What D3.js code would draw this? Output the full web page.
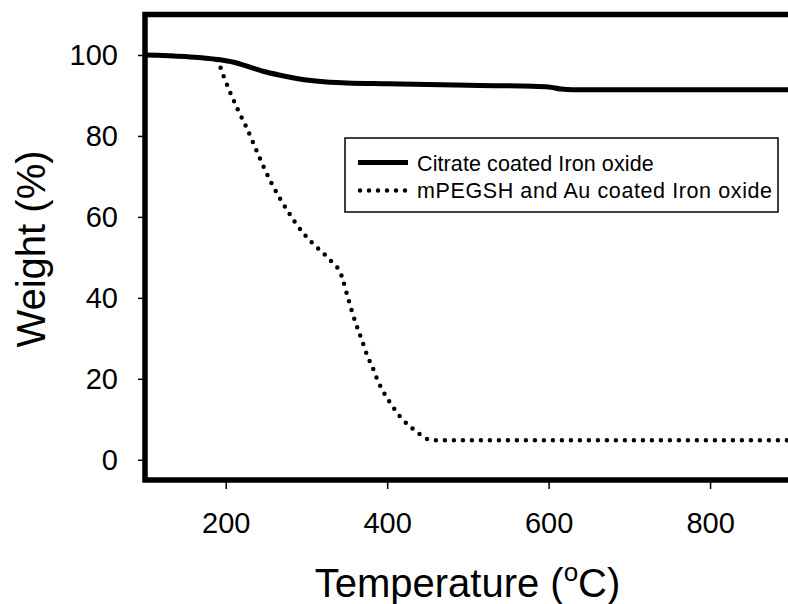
<!DOCTYPE html>
<html>
<head>
<meta charset="utf-8">
<script src="https://cdn.jsdelivr.net/npm/d3@7"></script>
<style>
  body { margin: 0; background: #fff; }
  svg { display: block; font-family: "Liberation Sans", Arial, sans-serif; }
</style>
</head>
<body>
<div id="chart-area"></div>
<script>
// values
var citrateTemp   = [100, 150, 190, 210, 230, 250, 275, 300, 325, 350, 400, 450, 500, 580, 600, 615, 630, 700, 800, 900];
var citrateWeight = [100, 99.6, 98.9, 98.2, 97.0, 95.8, 94.7, 93.8, 93.3, 93.1, 92.9, 92.7, 92.5, 92.3, 92.1, 91.6, 91.4, 91.4, 91.4, 91.4];

var mpegTemp   = [100, 150, 190, 195, 205, 215, 226, 240, 255, 275, 296, 310, 321, 337, 341, 345, 350, 358, 364, 370, 376, 381, 387, 393, 400, 407, 416, 426, 436, 450, 461, 600, 800, 900];
var mpegWeight = [100, 99.6, 98.7, 96, 91, 86.5, 82, 75.5, 69, 62, 56, 53, 51, 47.7, 46.8, 44.5, 41, 35.6, 32.1, 28.8, 25.4, 23.3, 20.2, 17.6, 15.2, 13.1, 10.7, 8.6, 7, 5.1, 4.8, 4.8, 4.8, 4.8];

var xTicks = [200, 400, 600, 800];
var yTicks = [0, 20, 40, 60, 80, 100];

var legendLabels = ["Citrate coated Iron oxide", "mPEGSH and Au coated Iron oxide"];

var width = 788, height = 604;
var svg = d3.select("#chart-area").append("svg").attr("width", width).attr("height", height);

var x = d3.scaleLinear().domain([100, 900]).range([145, 790.8]);
var y = d3.scaleLinear().domain([-5, 110]).range([480, 14.5]);

// axes (domain drawn by the frame below)
var xAxis = svg.append("g")
    .attr("transform", "translate(0," + y(-5) + ")")
    .call(d3.axisBottom(x).tickValues(xTicks).tickSize(9).tickPadding(23));
var yAxis = svg.append("g")
    .attr("transform", "translate(" + x(100) + ",0)")
    .call(d3.axisLeft(y).tickValues(yTicks).tickSize(7).tickPadding(20));

[xAxis, yAxis].forEach(function(a) {
  a.select(".domain").remove();
  a.selectAll("line").attr("stroke", "#000").attr("stroke-width", 1.5);
  a.selectAll("text").attr("font-size", "29px").attr("fill", "#000")
    .style("font-family", "'Liberation Sans', Arial, sans-serif");
});

// curves
var line = d3.line().curve(d3.curveMonotoneX);

var mpegPts = mpegTemp.map(function(t, i) { return [x(t), y(mpegWeight[i])]; });
var citPts = citrateTemp.map(function(t, i) { return [x(t), y(citrateWeight[i])]; });

svg.append("path")
    .attr("d", line(mpegPts))
    .attr("fill", "none")
    .attr("stroke", "#000")
    .attr("stroke-width", 4.5)
    .attr("stroke-linecap", "round")
    .attr("stroke-dasharray", "0 9");

svg.append("path")
    .attr("d", line(citPts))
    .attr("fill", "none")
    .attr("stroke", "#000")
    .attr("stroke-width", 5);

// frame
svg.append("rect")
    .attr("x", x(100)).attr("y", y(110))
    .attr("width", x(900) - x(100)).attr("height", y(-5) - y(110))
    .attr("fill", "none").attr("stroke", "#000").attr("stroke-width", 5.5);

// legend
var lg = svg.append("g");
lg.append("rect")
    .attr("x", 345).attr("y", 138).attr("width", 433).attr("height", 74)
    .attr("fill", "#fff").attr("stroke", "#000").attr("stroke-width", 1.5);
lg.append("line").attr("x1", 358).attr("x2", 408).attr("y1", 162.5).attr("y2", 162.5)
    .attr("stroke", "#000").attr("stroke-width", 5);
lg.append("line").attr("x1", 360).attr("x2", 406).attr("y1", 190.5).attr("y2", 190.5)
    .attr("stroke", "#000").attr("stroke-width", 4.5)
    .attr("stroke-linecap", "round").attr("stroke-dasharray", "0 9");
lg.selectAll("text.leg")
    .data(legendLabels)
    .enter().append("text")
    .attr("class", "leg")
    .attr("x", 417)
    .attr("y", function(d, i) { return 170.5 + i * 27; })
    .attr("font-size", "21.5px")
    .attr("letter-spacing", function(d, i) { return i === 1 ? "0.6px" : "0.1px"; })
    .text(function(d) { return d; });

// axis titles
svg.append("text")
    .attr("transform", "translate(45,249) rotate(-90)")
    .attr("text-anchor", "middle")
    .attr("font-size", "40px")
    .text("Weight (%)");

var xt = svg.append("text")
    .attr("x", 467.5).attr("y", 597)
    .attr("text-anchor", "middle")
    .attr("font-size", "40px");
xt.append("tspan").text("Temperature (");
xt.append("tspan").attr("font-size", "26px").attr("dy", -16).text("o");
xt.append("tspan").attr("dy", 16).text("C)");
</script>
</body>
</html>
